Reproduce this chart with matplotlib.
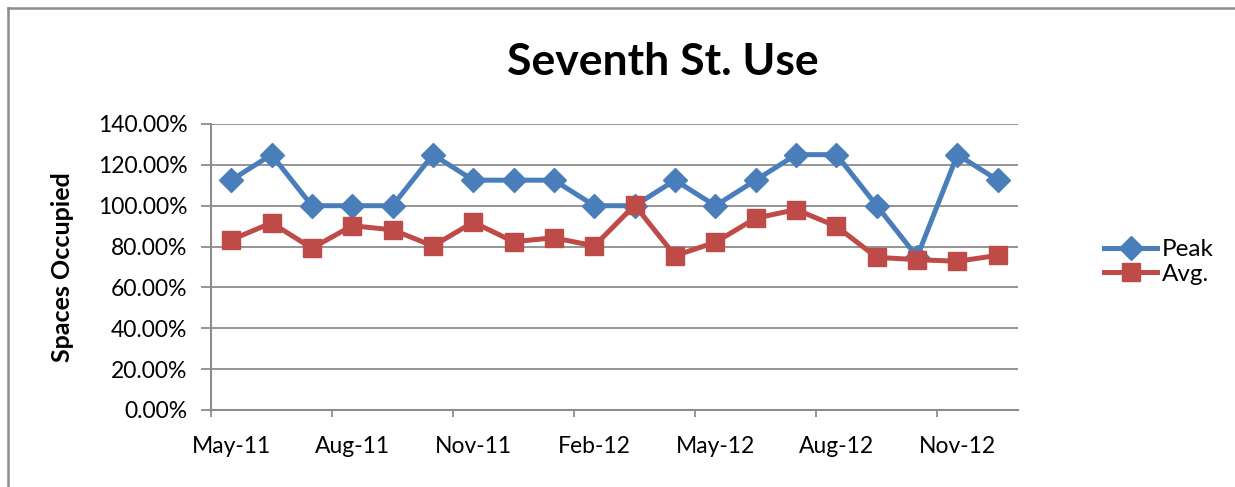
import matplotlib
matplotlib.use("Agg")
import matplotlib.pyplot as plt
from matplotlib.lines import Line2D
from matplotlib.ticker import FuncFormatter, FixedLocator

months = ["May-11", "Jun-11", "Jul-11", "Aug-11", "Sep-11", "Oct-11", "Nov-11",
          "Dec-11", "Jan-12", "Feb-12", "Mar-12", "Apr-12", "May-12", "Jun-12",
          "Jul-12", "Aug-12", "Sep-12", "Oct-12", "Nov-12", "Dec-12"]
peak = [112.5, 125, 100, 100, 100, 125, 112.5, 112.5, 112.5, 100,
        100, 112.5, 100, 112.5, 125, 125, 100, 75, 125, 112.5]
avg = [83.3, 91.6, 79.2, 90.2, 88.2, 80.3, 91.9, 82.4, 84.3, 80.3,
       100.3, 75.5, 82.1, 93.9, 98.1, 89.9, 74.7, 73.6, 72.8, 75.7]
yticks = [0, 20, 40, 60, 80, 100, 120, 140]

FONT = ["Lato", "DejaVu Sans"]
plt.rcParams['font.family'] = FONT

fig = plt.figure(figsize=(12.35, 4.87), dpi=100)
ax = fig.add_axes([211/1235, 1-410/487, (1018-211)/1235, (410-124)/487])

x = list(range(len(months)))
blue = "#4A7EBB"
red = "#BE4B48"
ax.plot(x, peak, color=blue, lw=3.6, marker="D", markersize=12, label="Peak", zorder=3)
ax.plot(x, avg, color=red, lw=3.6, marker="s", markersize=13, label="Avg.", zorder=4)

ax.set_xlim(-0.5, len(months) - 0.5)
ax.set_ylim(0, 140)
ax.set_yticks(yticks)
ax.yaxis.set_major_formatter(FuncFormatter(lambda v, p: f"{v:.2f}%"))
ax.grid(axis="y", color="#8c8c8c", lw=1.3)
ax.set_axisbelow(True)

# x ticks at month boundaries every 3 months, labels centered on months
tick_idx = list(range(0, len(months), 3))
ax.xaxis.set_major_locator(FixedLocator([i - 0.5 for i in tick_idx]))
ax.xaxis.set_major_formatter(FuncFormatter(lambda v, p: ""))
ax.xaxis.set_minor_locator(FixedLocator(tick_idx))
ax.xaxis.set_minor_formatter(FuncFormatter(lambda v, p: months[int(round(v))]))
ax.tick_params(axis="x", which="major", length=5, width=1.3, color="#8c8c8c", direction="out")
ax.tick_params(axis="x", which="minor", length=0, pad=19, labelsize=16.5)
ax.tick_params(axis="y", which="major", length=7, width=1.3, color="#8c8c8c", labelsize=16.5, pad=10)

for s in ["top", "right"]:
    ax.spines[s].set_visible(False)
for s in ["left", "bottom"]:
    ax.spines[s].set_color("#8c8c8c")
    ax.spines[s].set_linewidth(1.5)

ax.set_ylabel("Spaces Occupied", fontsize=18, fontweight="bold")
ax.yaxis.set_label_coords((74-211)/807, 0.5)
fig.text(663/1235, 1-62/487, "Seventh St. Use", ha="center", va="center",
         fontsize=32, fontweight="bold")

leg = fig.legend(handles=ax.get_lines(), loc="center left",
                 bbox_to_anchor=(1082/1235, 1-262/487), frameon=False,
                 fontsize=17.5, handlelength=2.2, labelspacing=0.15, handletextpad=0.2)

# chart area border
fig.add_artist(Line2D([8/1235, 1], [1-8/487, 1-8/487], color="#8c8c8c", lw=1.8, transform=fig.transFigure))
fig.add_artist(Line2D([8/1235, 8/1235], [0, 1-8/487], color="#8c8c8c", lw=1.8, transform=fig.transFigure))

fig.savefig("out.png", dpi=100)
